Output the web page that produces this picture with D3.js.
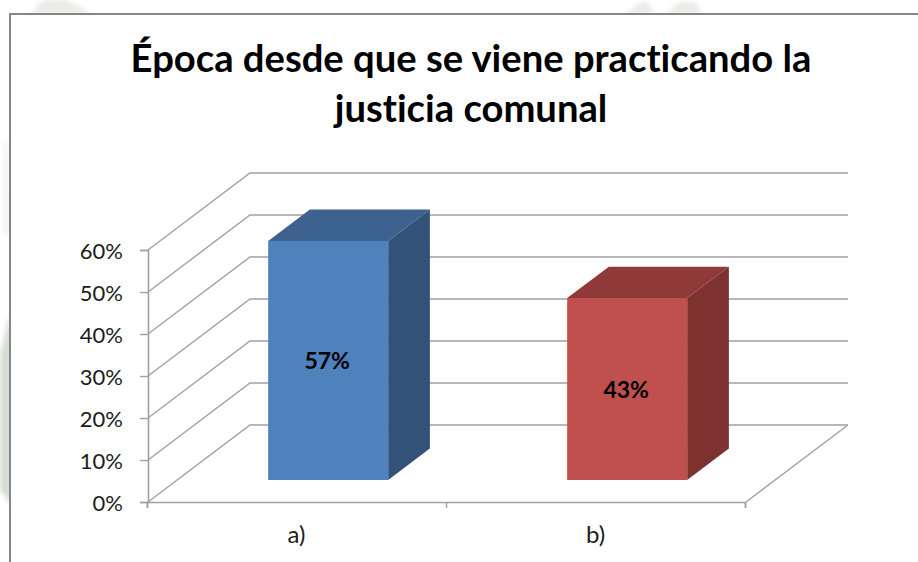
<!DOCTYPE html>
<html><head><meta charset="utf-8">
<style>html,body{margin:0;padding:0;background:#fff}svg{display:block}text{font-variant-ligatures:none}</style>
<script src="https://cdn.jsdelivr.net/npm/d3@7/dist/d3.min.js"></script>
</head><body><svg id="c" width="918" height="562"></svg>
<script>
const categories = ["a)", "b)"];
const values = [56.9, 43.3];
const valueLabels = ["57%", "43%"];
const ticks = [0, 10, 20, 30, 40, 50, 60];
const titleLines = ["Época desde que se viene practicando la", "justicia comunal"];
const faces = [["#4f81bd", "#3e6290", "#335278"], ["#c0504d", "#8f3a38", "#7d3230"]];

const W = 918, H = 562;
const svg = d3.select("#c");
const font = "Lato, Carlito, 'Open Sans', sans-serif";
const x = d3.scaleBand().domain(categories).range([148, 746]);
const y = d3.scaleLinear().domain([0, 60]).range([502, 250]);
const depthX = d3.scaleLinear().domain([0, 1]).range([0, 102]);
const depthY = d3.scaleLinear().domain([0, 1]).range([0, -77]);
const barFront = 0.286, barBack = 0.695, barW = 120, barShift = 1.5;
const P = (px, py, d) => [px + depthX(d), py + depthY(d)];
const grey = "#a0a0a0";

// watermark remnants outside the frame
const defs = svg.append("defs");
defs.append("filter").attr("id", "soft").attr("x", "-30%").attr("y", "-30%").attr("width", "160%").attr("height", "160%")
  .append("feGaussianBlur").attr("stdDeviation", 2.5);
const wm = svg.append("g").attr("filter", "url(#soft)");
wm.append("path").attr("d", "M30 14 L42 2 Q52 -3 66 0 L92 14 Z").attr("fill", "#e9ebe6");
wm.append("path").attr("d", "M625 14 L645 0 L655 14 Z M665 14 L680 2 L695 2 L702 14 Z").attr("fill", "#e9ebe6");
wm.append("path").attr("d", "M4 145 L8 140 L9 235 L4 235 Z").attr("fill", "#eff0ed");
wm.append("path").attr("d", "M0 355 L9 318 L12 318 L12 505 L0 490 Z").attr("fill", "#d6dcd2");

// frame
svg.append("rect").attr("x", 10).attr("y", 14).attr("width", W - 10).attr("height", H - 14).attr("fill", "#fff");
svg.append("path").attr("d", `M10 ${H} V14 H${W}`).attr("fill", "none").attr("stroke", "#868686").attr("stroke-width", 2);

const g = svg.append("g").attr("fill", "none").attr("stroke", grey).attr("stroke-width", 1.4);
const line = d3.line();
ticks.forEach(t => {
  const yy = y(t);
  g.append("path").attr("d", line([[x.range()[0], yy], P(x.range()[0], yy, 1), P(x.range()[1], yy, 1)]));
});
// floor, right edge
g.append("path").attr("d", line([[x.range()[1], y(0)], P(x.range()[1], y(0), 1)]));

// axes
const axisY = d3.axisLeft(y).tickValues(ticks).tickSize(8).tickFormat(d => d + "%").tickPadding(17);
const ay = svg.append("g").attr("transform", `translate(${x.range()[0]},0)`).call(axisY);
const axisX = d3.axisBottom(d3.scaleLinear().domain([0, categories.length]).range(x.range()))
  .tickValues(d3.range(categories.length + 1)).tickSize(6).tickFormat("");
const ax = svg.append("g").attr("transform", `translate(-1,${y(0)})`).call(axisX);
[ay, ax].forEach(a => {
  a.selectAll("path,line").attr("stroke", grey).attr("stroke-width", 1.4);
  a.select(".domain").attr("stroke-width", 1.6);
});
ay.selectAll("text").attr("font-family", font).attr("font-size", 22).attr("fill", "#1c1c1c").attr("dy", "0.4em");

categories.forEach(c => {
  svg.append("text").attr("x", x(c) + x.bandwidth() / 2 - 1).attr("y", y(0) + 41)
    .attr("text-anchor", "middle").attr("font-family", font).attr("font-size", 24).attr("fill", "#1c1c1c").text(c);
});

// bars
categories.forEach((c, i) => {
  const base = x(c) + x.bandwidth() / 2 - barW / 2 + barShift;
  const top = y(values[i]), bottom = y(0);
  const a = P(base, top, barFront), b = P(base + barW, top, barFront);
  const c1 = P(base + barW, top, barBack), d = P(base, top, barBack);
  const e = P(base + barW, bottom, barFront), f = P(base + barW, bottom, barBack), h = P(base, bottom, barFront);
  const bar = svg.append("g");
  bar.append("path").attr("d", line([a, b, c1, d]) + "Z").attr("fill", faces[i][1]);
  bar.append("path").attr("d", line([b, c1, f, e]) + "Z").attr("fill", faces[i][2]);
  bar.append("path").attr("d", line([a, b, e, h]) + "Z").attr("fill", faces[i][0]);
  svg.append("text").attr("x", (a[0] + b[0]) / 2 - 1).attr("y", (a[1] + h[1]) / 2 + 9)
    .attr("text-anchor", "middle").attr("font-family", font).attr("font-weight", 700)
    .attr("font-size", 23).attr("fill", "#000").text(valueLabels[i]);
});

// title
titleLines.forEach((t, i) => {
  svg.append("text").attr("x", 471).attr("y", 72 + i * 50).attr("text-anchor", "middle")
    .attr("font-family", font).attr("font-weight", 700).attr("font-size", 38.2).attr("fill", "#000").text(t);
});
</script></body></html>
